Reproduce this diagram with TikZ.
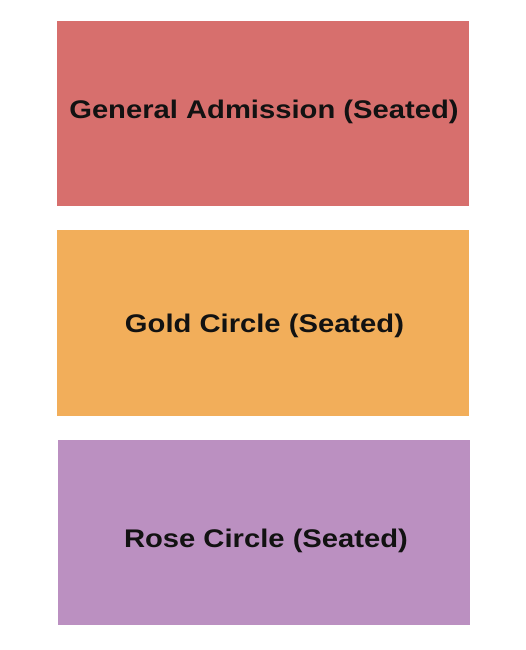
\documentclass[tikz,border=0pt]{standalone}
\usepackage{fontspec}
\setmainfont{Liberation Sans}
\usepackage{tikz}

\definecolor{gaRed}{HTML}{D76F6D}
\definecolor{goldOrange}{HTML}{F2AE5A}
\definecolor{rosePurple}{HTML}{BB90C1}

\newcommand{\widelabel}[1]{\scalebox{1.145}[1]{#1}}

\begin{document}
\begin{tikzpicture}[x=1pt, y=-1pt,
    seclabel/.style={anchor=base, inner sep=0pt, font=\bfseries\fontsize{25.5}{30}\selectfont, text=black!93}]
      \useasboundingbox (0,0) rectangle (525,650);
      \fill[gaRed] (57,21) rectangle (469,205.5);
      \fill[goldOrange] (57,230) rectangle (469,415.5);
      \fill[rosePurple] (58,440) rectangle (470,624.5);
      \node[seclabel] (ga) at (264,118.3) {\widelabel{General Admission (Seated)}};
      \node[seclabel] (gold) at (264.5,332.7) {\widelabel{Gold Circle (Seated)}};
      \node[seclabel] (rose) at (266,547.7) {\widelabel{Rose Circle (Seated)}};
    \end{tikzpicture}
\end{document}
